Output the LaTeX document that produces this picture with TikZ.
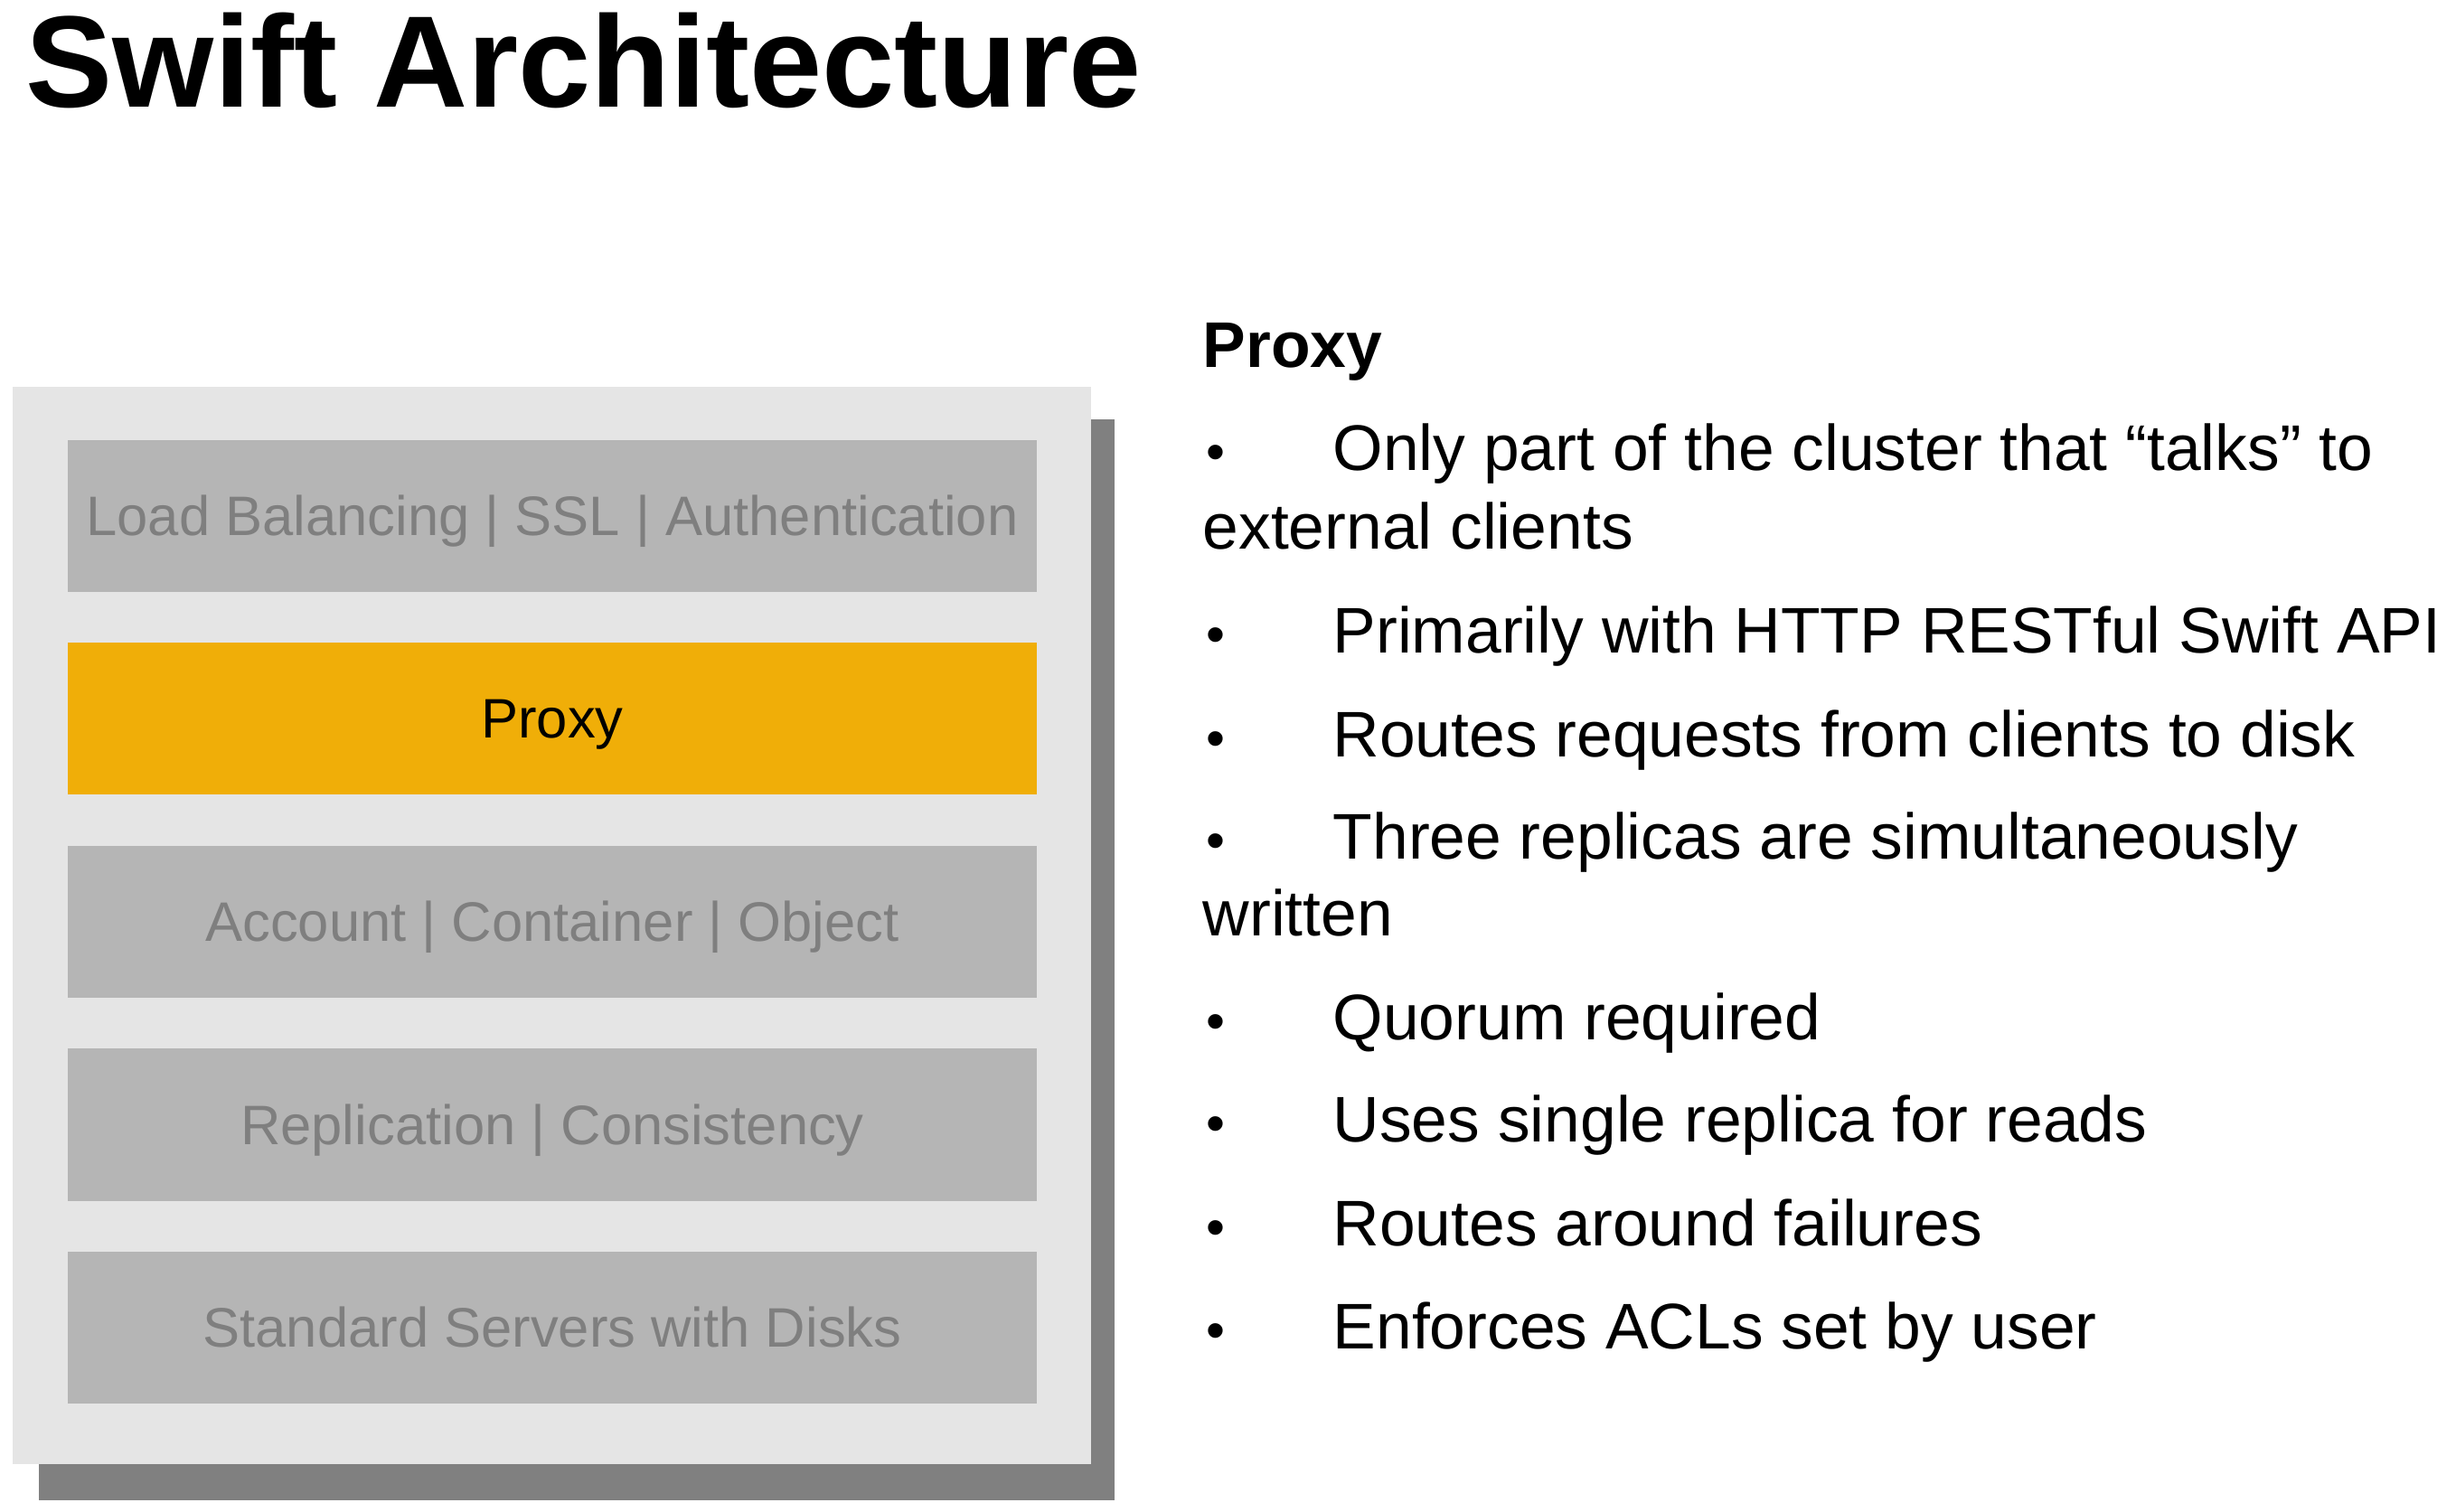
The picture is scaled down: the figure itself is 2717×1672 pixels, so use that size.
\documentclass[tikz,border=0pt]{standalone}
\usepackage{fontspec}
\setmainfont{Liberation Sans}
\usepackage{tikz}
\usepackage{color}

\definecolor{panelgray}{HTML}{E5E5E5}
\definecolor{shadowgray}{HTML}{808080}
\definecolor{layergray}{HTML}{B5B5B5}
\definecolor{layertext}{HTML}{7F7F7F}
\definecolor{proxyorange}{HTML}{F0AE08}

\begin{document}
\begin{tikzpicture}[x=0.01cm, y=-0.01cm,
    layer/.style={minimum width=10.72cm, minimum height=1.68cm, inner sep=0pt,
      text height=12.5pt, text depth=0pt, font=\fontsize{17.5}{21}\selectfont},
    bullettext/.style={anchor=base west, inner sep=0pt, font=\fontsize{20.3}{24}\selectfont},
    bulletdot/.style={anchor=base, inner sep=0pt, font=\fontsize{17}{20}\selectfont}]
      \useasboundingbox (0,0) rectangle (2717,1672);
      \node (title) at (28,118) [anchor=base west, inner sep=0pt, font=\fontsize{41}{48}\selectfont\bfseries] {Swift Architecture};
      % stack of layers
      \fill[shadowgray] (43,464) rectangle (1233,1660);
      \fill[panelgray] (14,428) rectangle (1207,1620);
      \foreach \j/\name/\txt in {0/lb/{Load Balancing | SSL | Authentication},
          2/acct/{Account | Container | Object}, 3/repl/{Replication | Consistency},
          4/disks/{Standard Servers with Disks}} {
        \node (\name) at (611,{571+224.5*\j}) [layer, fill=layergray, text=layertext] {\txt};
      }
      \node (proxy) at (611,795) [layer, fill=proxyorange] {Proxy};
      % notes on the right
      \node (head) at (1330,406) [anchor=base west, inner sep=0pt, font=\fontsize{20.3}{24}\selectfont\bfseries] {Proxy};
      \foreach \y/\name/\txt in {520/talks/{Only part of the cluster that “talks” to},
          722/http/{Primarily with HTTP RESTful Swift API},
          837/routes/{Routes requests from clients to disk},
          950/three/{Three replicas are simultaneously},
          1150/quorum/{Quorum required},
          1263/reads/{Uses single replica for reads},
          1378/fails/{Routes around failures},
          1492/acls/{Enforces ACLs set by user}} {
        \node (\name dot) at (1345,\y) [bulletdot] {•};
        \node (\name) at (1474,\y) [bullettext] {\txt};
      }
      \node (talks2) at (1330,607) [bullettext] {external clients};
      \node (three2) at (1330,1035) [bullettext] {written};
\end{tikzpicture}
\end{document}
